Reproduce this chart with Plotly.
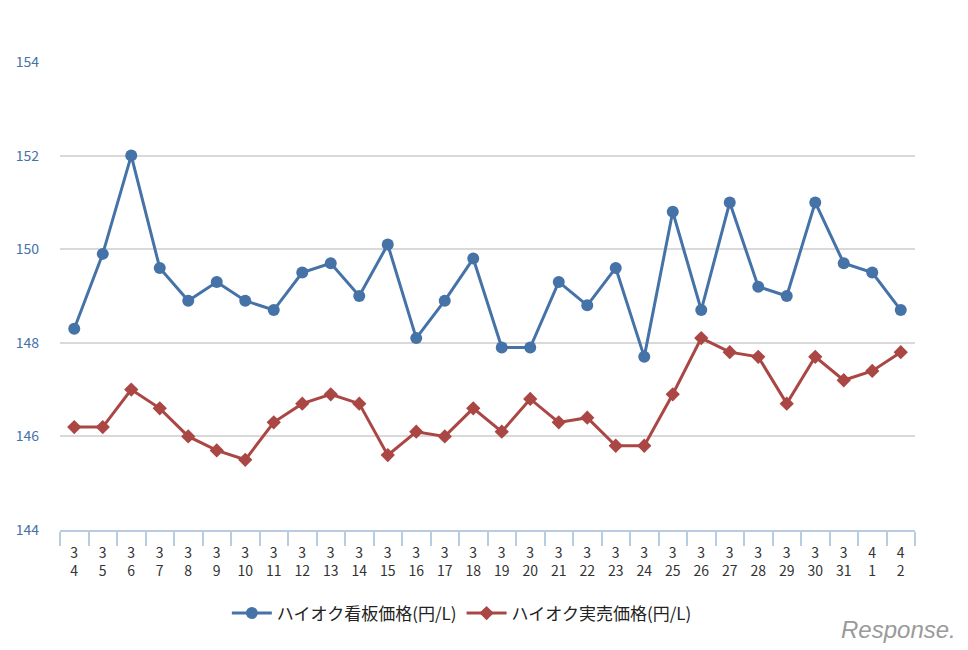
import plotly.graph_objects as go

months = [3]*28 + [4]*2
days = list(range(4, 32)) + [1, 2]
x_labels = [f"{m}<br>{d}" for m, d in zip(months, days)]

kanban = [148.3, 149.9, 152.0, 149.6, 148.9, 149.3, 148.9, 148.7, 149.5, 149.7,
          149.0, 150.1, 148.1, 148.9, 149.8, 147.9, 147.9, 149.3, 148.8, 149.6,
          147.7, 150.8, 148.7, 151.0, 149.2, 149.0, 151.0, 149.7, 149.5, 148.7]
jitsubai = [146.2, 146.2, 147.0, 146.6, 146.0, 145.7, 145.5, 146.3, 146.7, 146.9,
            146.7, 145.6, 146.1, 146.0, 146.6, 146.1, 146.8, 146.3, 146.4, 145.8,
            145.8, 146.9, 148.1, 147.8, 147.7, 146.7, 147.7, 147.2, 147.4, 147.8]

name_kanban = "ハイオク看板価格(円/L)"
name_jitsubai = "ハイオク実売価格(円/L)"
y_ticks = [144, 146, 148, 150, 152, 154]

font = "Noto Sans CJK JP, Noto Sans, sans-serif"

fig = go.Figure()
fig.add_trace(go.Scatter(
    x=x_labels, y=kanban, name=name_kanban, mode="lines+markers",
    line=dict(color="#4572a7", width=3),
    marker=dict(symbol="circle", size=12, color="#4572a7"),
))
fig.add_trace(go.Scatter(
    x=x_labels, y=jitsubai, name=name_jitsubai, mode="lines+markers",
    line=dict(color="#aa4643", width=3),
    marker=dict(symbol="diamond", size=11, color="#aa4643"),
))

fig.update_layout(
    width=968, height=650,
    margin=dict(l=52, r=61, t=54, b=128, autoexpand=False),
    paper_bgcolor="white", plot_bgcolor="white",
    font=dict(family=font, size=12, color="#333333"),
    showlegend=True,
    legend=dict(orientation="h", x=0.47, xanchor="center", y=-0.14, yanchor="top",
                font=dict(size=17, color="#222222"), itemwidth=40,
                traceorder="normal"),
    xaxis=dict(
        type="category", tickson="boundaries", ticks="outside", ticklen=14,
        tickcolor="#b8cce4", tickwidth=1.5, showline=True, linecolor="#b8cce4",
        linewidth=1.5, showgrid=False, tickfont=dict(size=14, color="#333333"),
        range=[-0.5, 29.5], automargin=False, ticklabelstandoff=9,
    ),
    yaxis=dict(
        range=[144, 154], tickvals=y_ticks, showgrid=True, gridcolor="#d9d9d9",
        gridwidth=1.5, zeroline=False, showline=False, automargin=False,
        tickfont=dict(size=14, color="#4572a7"), ticklabelstandoff=20,
    ),
)

fig.add_annotation(
    text="<i>Response.</i>", xref="paper", yref="paper", x=1.05, y=-0.18,
    xanchor="right", yanchor="top", showarrow=False,
    font=dict(size=24, color="#9a9a9a", family="Liberation Sans"),
)

fig.write_html("out.html")
